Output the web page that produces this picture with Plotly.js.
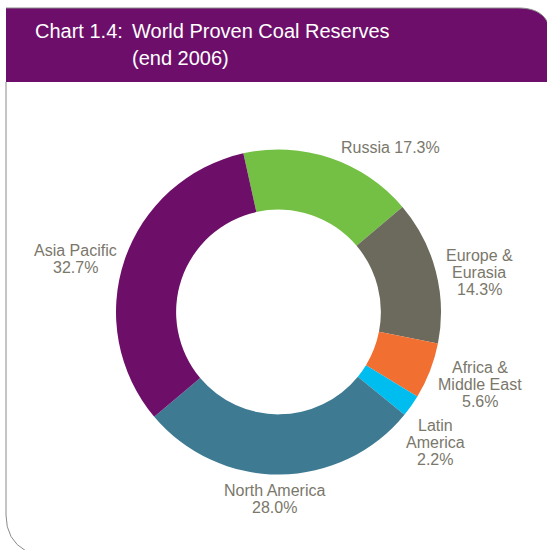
<!DOCTYPE html>
<html>
<head>
<meta charset="utf-8">
<script src="https://cdn.plot.ly/plotly-3.0.1.min.js"></script>
<style>html,body{margin:0;padding:0;background:#fff;}#chart{width:547px;height:550px;}</style>
</head>
<body>
<div id="chart"></div>
<script>
var regions = ["Russia", "Europe & Eurasia", "Africa & Middle East", "Latin America", "North America", "Asia Pacific"];
var shares = [17.3, 14.3, 5.6, 2.2, 28.0, 32.7];
var sliceColors = ["#74C044", "#6C6A5C", "#F06F31", "#00BDF0", "#3E7B93", "#6D0E69"];
var labelLines = [["Russia 17.3%"], ["Europe &", "Eurasia", "14.3%"], ["Africa &", "Middle East", "5.6%"], ["Latin", "America", "2.2%"], ["North America", "28.0%"], ["Asia Pacific", "32.7%"]];
var titleLines = ["Chart 1.4:", "World Proven Coal Reserves", "(end 2006)"];

var W = 547, H = 550;
function px(x){ return x / W; }
function py(y){ return 1 - y / H; }
function pt(x, y){ return px(x).toFixed(5) + "," + py(y).toFixed(5); }

// centre x and first-line centre y of each label block
var labelPos = [[390, 148], [479, 255], [480, 367], [435, 425], [274, 490], [75, 250]];
var lineGap = 17;

var annotations = [];
labelLines.forEach(function(lines, i){
  lines.forEach(function(line, j){
    annotations.push({
      xref: "paper", yref: "paper", x: px(labelPos[i][0]), y: py(labelPos[i][1] + j * lineGap),
      xanchor: "center", yanchor: "middle", showarrow: false, align: "center",
      text: line,
      font: {family: "Liberation Sans, Arial, sans-serif", size: 16, color: "#7A776B"}
    });
  });
});
annotations.push({xref:"paper", yref:"paper", x: px(33), y: py(31), xanchor:"left", yanchor:"middle", showarrow:false,
  text: titleLines[0], font:{family:"Liberation Sans, Arial, sans-serif", size:20, color:"#ffffff"}});
annotations.push({xref:"paper", yref:"paper", x: px(130), y: py(31), xanchor:"left", yanchor:"middle", showarrow:false,
  text: titleLines[1], font:{family:"Liberation Sans, Arial, sans-serif", size:20, color:"#ffffff"}});
annotations.push({xref:"paper", yref:"paper", x: px(130), y: py(58), xanchor:"left", yanchor:"middle", showarrow:false,
  text: titleLines[2], font:{family:"Liberation Sans, Arial, sans-serif", size:20, color:"#ffffff"}});

var headerPath = "M" + pt(6, 82) + " L" + pt(6, 8) + " L" + pt(518, 8) +
  " C" + pt(535, 8) + " " + pt(547, 14) + " " + pt(550, 30) + " L" + pt(550, 82) + " Z";
var borderPath = "M" + pt(6, 82) + " L" + pt(6, 515) + " Q" + pt(6, 540) + " " + pt(26, 551);
var topLine = "M" + pt(6, 8) + " L" + pt(518, 8) + " C" + pt(535, 8) + " " + pt(547, 14) + " " + pt(550, 30);

var data = [{
  type: "pie",
  labels: regions,
  values: shares,
  marker: {colors: sliceColors, line: {width: 0}},
  hole: 0.63,
  sort: false,
  direction: "clockwise",
  rotation: -12.5,
  textinfo: "none",
  hoverinfo: "label+percent",
  showlegend: false,
  domain: {x: [116/547, 441/547], y: [75.5/550, 400.5/550]}
}];

var layout = {
  width: W, height: H,
  margin: {l: 0, r: 0, t: 0, b: 0},
  paper_bgcolor: "#ffffff",
  showlegend: false,
  shapes: [
    {type: "path", xref: "paper", yref: "paper", path: headerPath, fillcolor: "#6D0F6A", line: {width: 0}, layer: "below"},
    {type: "path", xref: "paper", yref: "paper", path: topLine, line: {color: "#8A8A8A", width: 1}, layer: "below"},
    {type: "path", xref: "paper", yref: "paper", path: borderPath, line: {color: "#8A8A8A", width: 1}, layer: "below"}
  ],
  annotations: annotations
};

Plotly.newPlot("chart", data, layout, {displayModeBar: false, staticPlot: true});
</script>
</body>
</html>
